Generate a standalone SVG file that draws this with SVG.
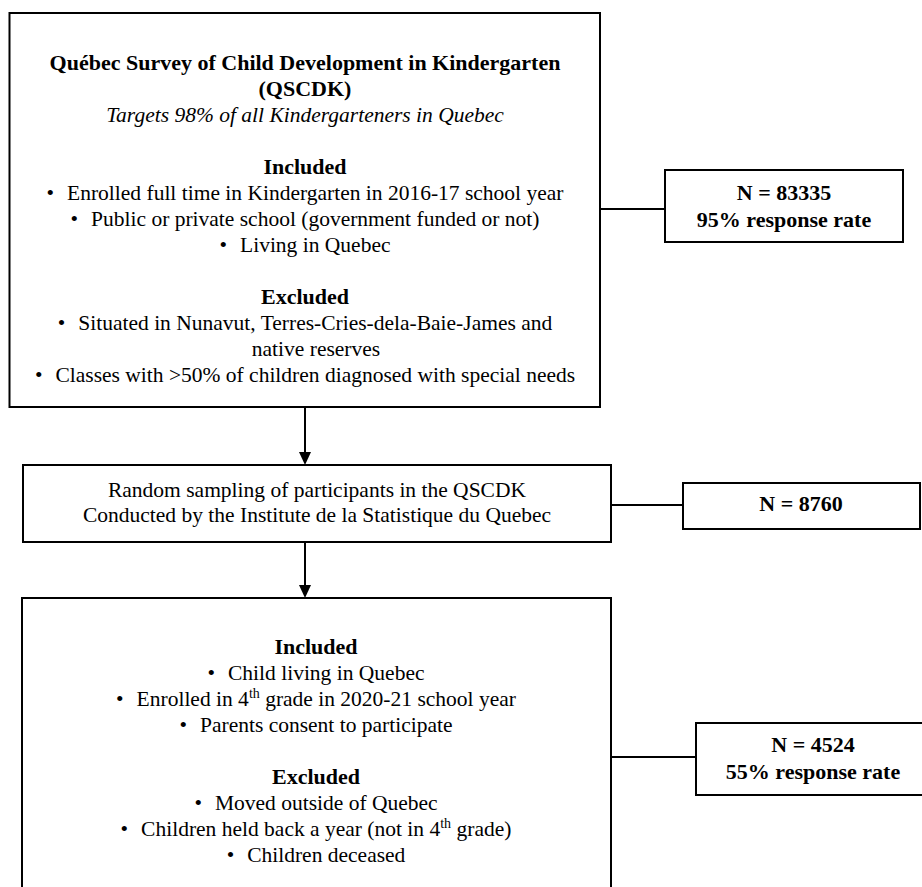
<svg xmlns="http://www.w3.org/2000/svg" width="922" height="887" viewBox="0 0 922 887">
<style>
.box{fill:#fff;stroke:#000;stroke-width:2}
.ln{stroke:#000;stroke-width:2;fill:none}
text{font-family:"Liberation Serif","Times New Roman",serif;font-size:21.5px;fill:#000;text-anchor:middle}
.b{font-weight:bold;font-size:22px}
.i{font-style:italic}
.sup{font-size:14px}
</style>
<rect width="922" height="887" fill="#fff"/>
<g id="connectors">
<line class="ln" x1="600" y1="209" x2="665" y2="209"/>
<line class="ln" x1="611" y1="505" x2="683" y2="505"/>
<line class="ln" x1="611" y1="757" x2="696" y2="757"/>
<line class="ln" x1="305" y1="407" x2="305" y2="455"/>
<path d="M299,452 L311,452 L305,465 Z" fill="#000"/>
<line class="ln" x1="305" y1="542" x2="305" y2="588"/>
<path d="M299,585 L311,585 L305,598 Z" fill="#000"/>
</g>
<g id="qscdk">
<rect class="box" x="9.5" y="13" width="590.5" height="394"/>
<text class="b" x="305" y="70">Québec Survey of Child Development in Kindergarten</text>
<text class="b" x="305" y="96">(QSCDK)</text>
<text class="i" x="305" y="122">Targets 98% of all Kindergarteners in Quebec</text>
<text class="b" x="305" y="174">Included</text>
<text x="305" y="200"><tspan>•</tspan><tspan dx="13">Enrolled full time in Kindergarten in 2016-17 school year</tspan></text>
<text x="305" y="226"><tspan>•</tspan><tspan dx="13">Public or private school (government funded or not)</tspan></text>
<text x="305" y="252"><tspan>•</tspan><tspan dx="13">Living in Quebec</tspan></text>
<text class="b" x="305" y="304">Excluded</text>
<text x="305" y="330"><tspan>•</tspan><tspan dx="13">Situated in Nunavut, Terres-Cries-dela-Baie-James and</tspan></text>
<text x="316" y="356">native reserves</text>
<text x="305" y="382"><tspan>•</tspan><tspan dx="13">Classes with &gt;50% of children diagnosed with special needs</tspan></text>
</g>
<g id="n83335">
<rect class="box" x="665" y="170" width="238" height="72"/>
<text class="b" x="784" y="200">N = 83335</text>
<text class="b" x="784" y="227">95% response rate</text>
</g>
<g id="sampling">
<rect class="box" x="23" y="465" width="588" height="77"/>
<text x="317" y="497">Random sampling of participants in the QSCDK</text>
<text x="317" y="522">Conducted by the Institute de la Statistique du Quebec</text>
</g>
<g id="n8760">
<rect class="box" x="683" y="483" width="237" height="46"/>
<text class="b" x="801" y="511">N = 8760</text>
</g>
<g id="followup">
<rect class="box" x="22" y="598" width="589" height="300"/>
<text class="b" x="316" y="654">Included</text>
<text x="316" y="680"><tspan>•</tspan><tspan dx="13">Child living in Quebec</tspan></text>
<text x="316" y="706"><tspan>•</tspan><tspan dx="13">Enrolled in 4</tspan><tspan class="sup" dy="-8">th</tspan><tspan dy="8"> grade in 2020-21 school year</tspan></text>
<text x="316" y="732"><tspan>•</tspan><tspan dx="13">Parents consent to participate</tspan></text>
<text class="b" x="316" y="784">Excluded</text>
<text x="316" y="810"><tspan>•</tspan><tspan dx="13">Moved outside of Quebec</tspan></text>
<text x="316" y="836"><tspan>•</tspan><tspan dx="13">Children held back a year (not in 4</tspan><tspan class="sup" dy="-8">th</tspan><tspan dy="8"> grade)</tspan></text>
<text x="316" y="862"><tspan>•</tspan><tspan dx="13">Children deceased</tspan></text>
</g>
<g id="n4524">
<rect class="box" x="696" y="723" width="234" height="72"/>
<text class="b" x="813" y="752">N = 4524</text>
<text class="b" x="813" y="779">55% response rate</text>
</g>
</svg>
